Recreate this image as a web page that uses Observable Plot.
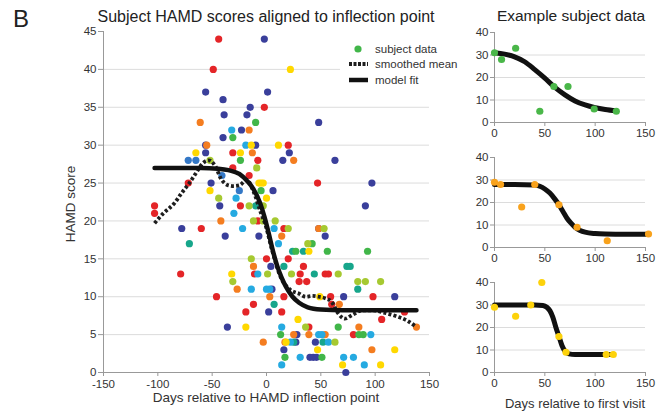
<!DOCTYPE html>
<html><head><meta charset="utf-8">
<script src="https://cdn.jsdelivr.net/npm/d3@7"></script>
<script src="https://cdn.jsdelivr.net/npm/@observablehq/plot@0.6"></script>
<style>
body{margin:0;background:#fff;}
#root{position:relative;width:660px;height:413px;overflow:hidden;font-family:"Liberation Sans",Arial,sans-serif;color:#333;background:#fff;}
#root svg{position:absolute;}
</style></head><body><div id="root"></div>
<script>
// ---------- data: main panel, points by colour group [day, HAMD score] ----------
const redPts = [[-44,44],[-49,40],[-31,29],[-31,27],[-16,26],[-72,25],[-103,22],[-103,21],[-24,22],[-60,19],[-79,13],[-46,10],[-11,13],[-12,9],[-19,8],[-8,28],[-8,20],[-2,35],[20,30],[47,25],[16,19],[0,15],[20,15],[34,14],[31,13],[54,13],[57,13],[30,12],[37,12],[16,10],[59,10],[98,10],[60,9],[14,8],[106,7],[127,8],[80,5],[39,6]];
const navyPts = [[1,37],[-2,44],[-56,37],[-40,36],[-39,34],[-40,31],[-23,32],[-15,35],[-18,34],[-56,30],[-56,29],[-10,30],[-51,25],[-43,22],[-38,18],[-78,19],[-7,18],[-36,6],[21,29],[15,28],[6,24],[48,33],[63,28],[97,25],[91,22],[54,18],[48,19],[5,11],[2,8],[71,10],[118,10],[28,5],[27,4],[45,4],[16,3],[40,2],[43,2],[46,2],[73,0],[4,14]];
const bluePts = [[-72,28],[-65,28],[-41,26],[-25,24]];
const orangePts = [[-61,33],[-16,32],[-55,30],[-13,29],[-42,20],[-12,14],[-27,11],[25,28],[14,18],[48,19],[3,10],[-3,4],[25,5],[67,9],[85,6],[138,6],[39,5],[54,5],[17,4],[97,3]];
const yellowPts = [[22,40],[-65,29],[-24,29],[-14,30],[-7,25],[-5,25],[-3,25],[-52,24],[0,23],[11,30],[-32,13],[-19,6],[39,16],[29,7],[18,4],[47,3],[118,3],[70,1],[105,1],[49,10]];
const limePts = [[-9,27],[-52,28],[-44,23],[-16,22],[-12,20],[-14,15],[-31,12],[-3,22],[8,20],[20,19],[-3,20],[38,17],[1,13],[23,13],[66,13],[84,12],[91,12],[105,12],[36,6],[63,4],[53,19]];
const greenPts = [[-10,33],[-24,28],[-31,31],[-5,24],[42,17],[27,16],[56,16],[93,16],[13,5],[66,6],[85,5],[89,5],[17,2],[51,2]];
const tealPts = [[-71,17],[7,9],[16,14],[74,14],[77,14],[44,13],[84,11],[24,16],[34,16],[25,4],[52,4],[-10,22]];
const cyanPts = [[-32,32],[-19,30],[-30,21],[-22,19],[-28,23],[-8,13],[-14,11],[0,11],[3,11],[14,6],[14,1],[7,19],[11,17],[48,5],[51,5],[96,5],[22,4],[57,4],[31,2],[71,2],[80,2],[90,1]];

// smoothed mean (dotted) and model fit (solid)
const smoothDays   = [-103,-95,-85,-78,-71,-65,-61,-57,-53,-47,-42,-35,-30,-25,-18,-12,-5,-1,5,13,22,30,36,42,48,54,60,66,72,79,88,98,108,120,130,138];
const smoothScores = [19.7,21,22.3,23.7,25,26.3,27.2,27.8,28,27.2,25.6,24.7,24.6,24.7,25.4,23.9,21,19.5,16.2,12.6,10.9,10.4,10,10.1,10,9.8,9.3,7.8,7.1,7.6,8.2,8.2,7.9,7.4,6.8,6];
const fitDays   = [-103,-60,-45,-35,-25,-18,-12,-6,-2,2,6,10,14,18,24,30,38,50,70,100,138];
const fitScores = [27,27,26.9,26.7,26.2,25.3,24.2,22.4,20.6,18.4,16,14,12.5,11.3,10,9.2,8.6,8.3,8.2,8.2,8.2];

// example subjects
const ex1Days = [0,7,21,45,59,73,99,121];
const ex1Scores = [31,28,33,5,16,16,6,5];
const ex1FitDays = [0,10,20,30,40,50,60,70,80,90,100,110,121];
const ex1Fit = [31,30.4,29.2,27,23.5,19.7,15.6,12.3,9.6,7.8,6.6,5.8,5.2];
const ex2Days = [0,6,27,40,64,82,112,153];
const ex2Scores = [29,28,18,28,19,9,3,6];
const ex2FitDays = [0,20,40,45,50,55,60,64,68,72,76,80,85,90,100,110,130,153];
const ex2Fit = [28,28,27.8,27.2,26,24.2,21.5,19,16,13,10.8,9,7.6,6.8,6.2,6,5.9,5.9];
const ex3Days = [0,21,36,47,64,71,111,118];
const ex3Scores = [29,25,30,40,16,9,8,8];
const ex3FitDays = [0,20,40,48,52,55,58,61,64,67,70,74,80,100,118];
const ex3Fit = [30,30,30,29.8,29,27.5,24.5,20,16,12,9.5,8.3,8,8,8];

// ticks
const mainXTicks = [-150,-100,-50,0,50,100,150];
const mainYTicks = [0,5,10,15,20,25,30,35,40,45];
const mainGrid = [5,10,15,20,25,30,35,40];
const exXTicks = [0,50,100,150];
const exYTicks = [0,10,20,30,40];
const exGrid = [10,20,30];

// ---------- colours ----------
const palette = {red:"#e42528", navy:"#3a3f9b", blue:"#3478c6", orange:"#f47d20", yellow:"#ffd800",
  lime:"#a6c931", green:"#41b649", teal:"#17a68b", cyan:"#25aae1"};
const groups = [["navy",navyPts],["blue",bluePts],["red",redPts],["orange",orangePts],["teal",tealPts],
  ["green",greenPts],["cyan",cyanPts],["lime",limePts],["yellow",yellowPts]];
const scatter = groups.flatMap(([c, pts]) => pts.map(([d, s]) => ({day: d, score: s, col: palette[c]})));
const smooth = smoothDays.map((d, i) => ({day: d, score: smoothScores[i]}));
const fit = fitDays.map((d, i) => ({day: d, score: fitScores[i]}));

const font = "Liberation Sans, Arial, sans-serif";
const fmt = d => String(d);
const root = document.getElementById("root");

const main = Plot.plot({
  width: 460, height: 413,
  marginLeft: 103, marginRight: 31, marginTop: 31, marginBottom: 41,
  x: {domain: [-150, 150]},
  y: {domain: [0, 45]},
  color: {type: "identity"},
  style: {fontFamily: font, fontSize: "11.5px", color: "#333", background: "transparent", overflow: "visible"},
  marks: [
    Plot.ruleY(mainGrid, {stroke: "#dcdcdc", strokeWidth: 1}),
    Plot.ruleX([-150], {stroke: "#999"}),
    Plot.ruleY([0], {stroke: "#999"}),
    Plot.axisX({ticks: mainXTicks, tickFormat: fmt, tickSize: 4, tickPadding: 3, stroke: "#999", label: null}),
    Plot.axisY({ticks: mainYTicks, tickFormat: fmt, tickSize: 5, tickPadding: 2, stroke: "#999", label: null}),
    Plot.dot(scatter, {x: "day", y: "score", fill: "col", r: 3.6}),
    Plot.line(smooth, {x: "day", y: "score", stroke: "#1e1e1e", strokeWidth: 3.8, strokeDasharray: "3,2.2", strokeLinecap: "butt", strokeLinejoin: "miter", curve: "monotone-x"}),
    Plot.line(fit, {x: "day", y: "score", stroke: "#111", strokeWidth: 4.5, curve: "monotone-x"})
  ]
});
main.style.left = "0px"; main.style.top = "0px";
root.appendChild(main);

function example(days, scores, fDays, fScores, color, top) {
  const pts = days.map((d, i) => ({day: d, score: scores[i]}));
  const f = fDays.map((d, i) => ({day: d, score: fScores[i]}));
  const p = Plot.plot({
    width: 200, height: 124,
    marginLeft: 34, marginRight: 15, marginTop: 12, marginBottom: 22,
    x: {domain: [0, 150]},
    y: {domain: [0, 40]},
    style: {fontFamily: font, fontSize: "11.5px", color: "#333", background: "transparent", overflow: "visible"},
    marks: [
      Plot.ruleY(exGrid, {stroke: "#dcdcdc"}),
      Plot.ruleX([0], {stroke: "#999"}),
      Plot.ruleY([0], {stroke: "#999"}),
      Plot.axisX({ticks: exXTicks, tickFormat: fmt, tickSize: 4, tickPadding: 2, stroke: "#999", label: null}),
      Plot.axisY({ticks: exYTicks, tickFormat: fmt, tickSize: 4, tickPadding: 2, stroke: "#999", label: null}),
      Plot.line(f, {x: "day", y: "score", stroke: "#111", strokeWidth: 5, curve: "monotone-x"}),
      Plot.dot(pts, {x: "day", y: "score", fill: color, r: 3.6})
    ]
  });
  p.style.left = "460px"; p.style.top = top + "px";
  root.appendChild(p);
}
example(ex1Days, ex1Scores, ex1FitDays, ex1Fit, "#4ab749", 20);
example(ex2Days, ex2Scores, ex2FitDays, ex2Fit, "#f8a21c", 145);
example(ex3Days, ex3Scores, ex3FitDays, ex3Fit, "#fdd20b", 270);

// ---------- overlay: titles, labels, legend ----------
const svg = d3.select(root).append("svg").attr("width", 660).attr("height", 413)
  .style("left", "0px").style("top", "0px").style("font-family", font);
function txt(x, y, s, size, anchor, fill, rot) {
  const t = svg.append("text").attr("x", x).attr("y", y).attr("font-size", size)
    .attr("text-anchor", anchor || "middle").attr("fill", fill || "#222").text(s);
  if (rot) t.attr("transform", `rotate(${rot},${x},${y})`);
  return t;
}
txt(13, 27, "B", 24, "start");
txt(266, 22, "Subject HAMD scores aligned to inflection point", 16);
txt(571, 21, "Example subject data", 15.5);
txt(266, 402, "Days relative to HAMD inflection point", 13.5, "middle", "#333");
txt(575, 408, "Days relative to first visit", 13, "middle", "#333");
txt(75, 204, "HAMD score", 13.5, "middle", "#333", -90);

// legend
svg.append("rect").attr("x", 340).attr("y", 38).attr("width", 118).attr("height", 50).attr("fill", "#fff");
svg.append("circle").attr("cx", 358).attr("cy", 49).attr("r", 3.6).attr("fill", palette.green);
svg.append("line").attr("x1", 349).attr("x2", 368).attr("y1", 64).attr("y2", 64)
  .attr("stroke", "#1e1e1e").attr("stroke-width", 3.8).attr("stroke-dasharray", "3,1.5");
svg.append("line").attr("x1", 349).attr("x2", 368).attr("y1", 80).attr("y2", 80)
  .attr("stroke", "#111").attr("stroke-width", 4.5);
txt(375, 53, "subject data", 11.5, "start", "#333");
txt(375, 68, "smoothed mean", 11.5, "start", "#333");
txt(375, 84, "model fit", 11.5, "start", "#333");
</script></body></html>
